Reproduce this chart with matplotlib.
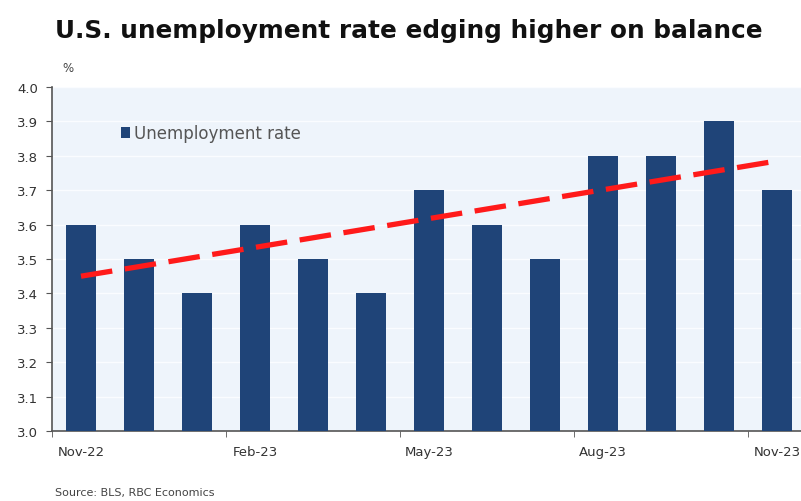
import matplotlib
matplotlib.use("Agg")
import matplotlib.pyplot as plt
import numpy as np

months = ["Nov-22", "Dec-22", "Jan-23", "Feb-23", "Mar-23", "Apr-23", "May-23",
          "Jun-23", "Jul-23", "Aug-23", "Sep-23", "Oct-23", "Nov-23"]
unemployment = [3.6, 3.5, 3.4, 3.6, 3.5, 3.4, 3.7, 3.6, 3.5, 3.8, 3.8, 3.9, 3.7]
trend_ends = [3.45, 3.785]
yticks = [3.0, 3.1, 3.2, 3.3, 3.4, 3.5, 3.6, 3.7, 3.8, 3.9, 4.0]

plt.rcParams['font.family'] = ['DejaVu Sans']

W, H = 801, 502
fig = plt.figure(figsize=(W / 100, H / 100), dpi=100)
ax = fig.add_axes([52 / W, 70 / H, 754 / W, 344 / H])
ax.set_facecolor('#eef4fb')

x = np.arange(len(months))
ax.bar(x, unemployment, width=0.53, color='#1f4478', zorder=3,
       label='Unemployment rate')
ax.plot([x[0], x[-1]], trend_ends, color='#ff1a1a', lw=3.8,
        dashes=(6, 2.4), solid_capstyle='butt', dash_capstyle='butt', zorder=4)

ax.set_xlim(-0.5, len(months) - 0.5)
ax.set_ylim(3.0, 4.0)
ax.set_yticks(yticks)
ax.set_yticklabels([f"{v:.1f}" for v in yticks], fontsize=9.5, color='#333333')
for v in yticks[1:]:
    ax.axhline(v, color='#fafcff', lw=1.0, zorder=1)

# labels at every third month, ticks at category boundaries
lab_idx = list(range(0, len(months), 3))
ax.set_xticks(lab_idx)
ax.set_xticklabels([months[i] for i in lab_idx], fontsize=9.5, color='#333333')
ax.tick_params(axis='x', length=0, pad=10)
ax.set_xticks([i - 0.5 for i in lab_idx], minor=True)
ax.tick_params(axis='x', which='minor', length=4, direction='out', color='#555555')
ax.tick_params(axis='y', length=4, direction='out', color='#555555', pad=6)

for s in ['top', 'right']:
    ax.spines[s].set_visible(False)
ax.spines['left'].set_color('#555555')
ax.spines['bottom'].set_color('#555555')
ax.spines['left'].set_linewidth(1.2)
ax.spines['bottom'].set_linewidth(1.2)

leg = ax.legend(loc='upper left', bbox_to_anchor=(0.083, 0.912), frameon=False,
                fontsize=12, handlelength=0.55, handleheight=0.65, handletextpad=0.2,
                borderaxespad=0)
for t in leg.get_texts():
    t.set_color('#555555')

fig.text(55 / W, 1 - 31 / H, "U.S. unemployment rate edging higher on balance",
         fontsize=17.8, fontweight='bold', color='#111111', va='center', ha='left')
fig.text(62 / W, 1 - 68 / H, "%", fontsize=8.5, color='#444444', va='center', ha='left')
fig.text(55 / W, 1 - 493 / H, "Source: BLS, RBC Economics", fontsize=8,
         color='#444444', va='center', ha='left')

fig.savefig('out.png', dpi=100)
